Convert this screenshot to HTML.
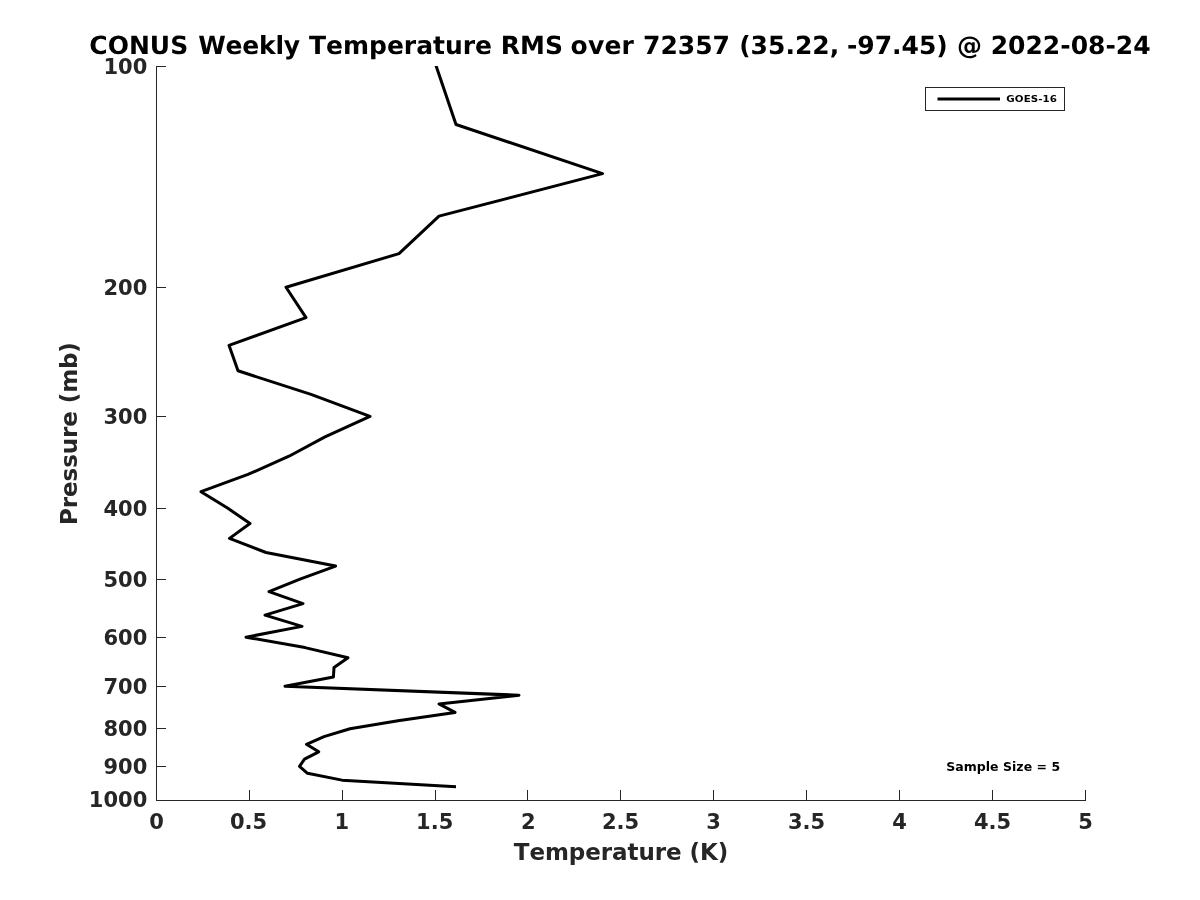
<!DOCTYPE html>
<html lang="en">
<head>
<meta charset="utf-8">
<title>CONUS Weekly Temperature RMS</title>
<style>
html,body{margin:0;padding:0;background:#fff;}
body{width:1200px;height:900px;overflow:hidden;}
svg{display:block;font-family:"DejaVu Sans","Liberation Sans",sans-serif;font-weight:bold;font-kerning:none;}
.ax{stroke:#262626;stroke-width:1;fill:none;shape-rendering:crispEdges;}
.tl{fill:#262626;font-size:21px;}
.lab{fill:#262626;font-size:23px;}
</style>
</head>
<body>
<svg width="1200" height="900" viewBox="0 0 1200 900">
<rect x="0" y="0" width="1200" height="900" fill="#ffffff"/>
<text transform="translate(0 54.0) rotate(0)" text-rendering="geometricPrecision" font-size="25" fill="#000"><tspan x="89.35">CONUS</tspan> <tspan x="198.25" textLength="101.9" lengthAdjust="spacing">Weekly</tspan> <tspan x="308.95">Temperature</tspan> <tspan x="500.8">RMS</tspan> <tspan x="570.5" textLength="63.4" lengthAdjust="spacing">over</tspan> <tspan x="643.0">72357</tspan> <tspan x="739.2">(35.22,</tspan> <tspan x="846.9">-97.45)</tspan> <tspan x="957.0">@</tspan> <tspan x="990.7">2022-08-24</tspan></text>
<path class="ax" d="M156.5 66.0V800.5H1086.0"/>
<path class="ax" d="M156.5 801.0v-11M249.5 801.0v-11M342.5 801.0v-11M435.5 801.0v-11M527.5 801.0v-11M620.5 801.0v-11M713.5 801.0v-11M806.5 801.0v-11M899.5 801.0v-11M992.5 801.0v-11M1085.5 801.0v-11M156.0 66.5h10M156.0 287.5h10M156.0 416.5h10M156.0 508.5h10M156.0 579.5h10M156.0 637.5h10M156.0 686.5h10M156.0 728.5h10M156.0 766.5h10M156.0 800.5h10"/>
<text class="tl" x="156.5" y="829" text-anchor="middle">0</text>
<text class="tl" x="248.5" y="829" text-anchor="middle">0.5</text>
<text class="tl" x="341.9" y="829" text-anchor="middle">1</text>
<text class="tl" x="434.7" y="829" text-anchor="middle">1.5</text>
<text class="tl" x="528.4" y="829" text-anchor="middle">2</text>
<text class="tl" x="620.5" y="829" text-anchor="middle">2.5</text>
<text class="tl" x="713.5" y="829" text-anchor="middle">3</text>
<text class="tl" x="806.5" y="829" text-anchor="middle">3.5</text>
<text class="tl" x="899.5" y="829" text-anchor="middle">4</text>
<text class="tl" x="992.5" y="829" text-anchor="middle">4.5</text>
<text class="tl" x="1085.5" y="829" text-anchor="middle">5</text>
<text class="tl" x="147.3" y="74.2" text-anchor="end">100</text>
<text class="tl" x="147.3" y="295.2" text-anchor="end">200</text>
<text class="tl" x="147.3" y="424.2" text-anchor="end">300</text>
<text class="tl" x="147.3" y="516.2" text-anchor="end">400</text>
<text class="tl" x="147.3" y="587.2" text-anchor="end">500</text>
<text class="tl" x="147.3" y="645.2" text-anchor="end">600</text>
<text class="tl" x="147.3" y="694.2" text-anchor="end">700</text>
<text class="tl" x="147.3" y="736.2" text-anchor="end">800</text>
<text class="tl" x="147.3" y="774.2" text-anchor="end">900</text>
<text class="tl" x="147.3" y="807.4" text-anchor="end">1000</text>
<text class="lab" x="513.8" y="860" textLength="214.4" lengthAdjust="spacing">Temperature (K)</text>
<text class="lab" transform="translate(77 433.5) rotate(-90)" text-anchor="middle" textLength="182.8" lengthAdjust="spacing">Pressure (mb)</text>
<clipPath id="plotclip"><rect x="156" y="66" width="930" height="735"/></clipPath>
<path d="M435.28 63.45 L436.3 66.45 L456.0 124.52 L602.5 173.62 L439.0 216.15 L399.0 253.67 L286.0 287.23 L306.0 317.58 L229.0 345.30 L238.0 370.79 L311.0 394.40 L370.0 416.37 L325.0 436.93 L289.0 456.24 L248.0 474.44 L201.0 491.66 L227.5 508.00 L250.0 523.54 L229.5 538.36 L266.0 552.52 L335.6 566.07 L300.0 579.07 L269.0 591.57 L303.0 603.59 L265.0 615.17 L302.0 626.35 L246.0 637.15 L305.0 647.59 L348.0 657.70 L334.0 667.50 L333.4 677.01 L285.0 686.24 L519.0 695.22 L439.0 703.94 L455.0 712.44 L398.0 720.71 L350.0 728.78 L324.0 736.64 L306.5 744.32 L318.7 751.81 L304.5 759.13 L299.5 766.29 L307.5 773.29 L342.0 780.14 L456.0 786.85" clip-path="url(#plotclip)" fill="none" stroke="#000" stroke-width="3" stroke-linejoin="round" stroke-linecap="butt"/>
<rect x="925.5" y="87.5" width="139" height="23" fill="#fff" stroke="#262626" stroke-width="1" shape-rendering="crispEdges"/>
<path d="M937.5 99H1000" stroke="#000" stroke-width="3" fill="none"/>
<text transform="translate(1006.3 102) scale(1 0.9)" font-size="10.3" fill="#000" textLength="50.7" lengthAdjust="spacing">GOES-16</text>
<text x="946.2" y="770.8" font-size="12.5" fill="#000" textLength="114" lengthAdjust="spacing">Sample Size = 5</text>
</svg>
</body>
</html>
